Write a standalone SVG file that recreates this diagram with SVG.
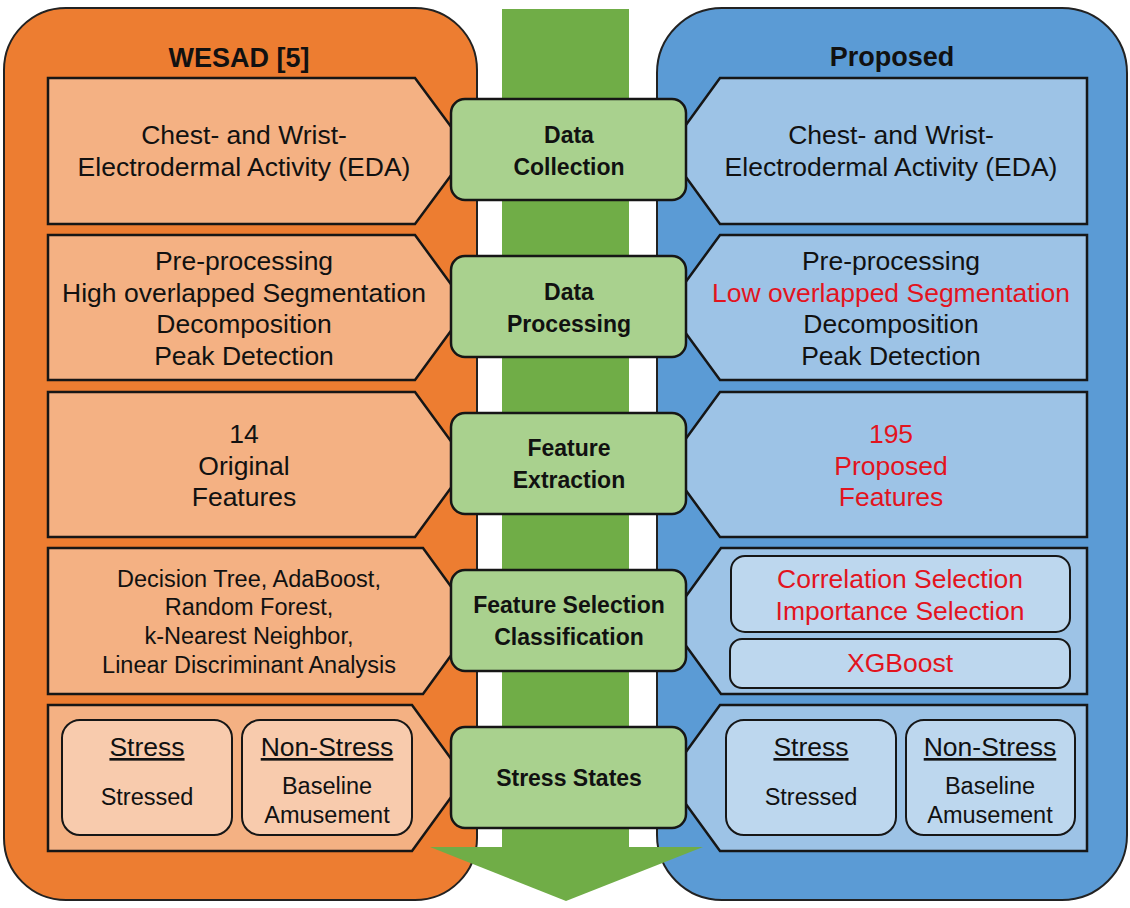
<svg xmlns="http://www.w3.org/2000/svg" width="1130" height="908" viewBox="0 0 1130 908">
<style>
text{font-family:"Liberation Sans",Arial,sans-serif;text-anchor:middle;fill:#111}
.body{font-size:26.5px}
.small{font-size:23.5px}
.red{fill:#E2141E}
.hdr{font-size:27px;font-weight:bold}
.lbl{font-size:23px;font-weight:bold}
.pl{fill:#F4B183;stroke:#161616;stroke-width:2.5}
.pr{fill:#9DC3E6;stroke:#161616;stroke-width:2.5}
.il{fill:#F8CBAD;stroke:#161616;stroke-width:2}
.ir{fill:#BDD7EE;stroke:#161616;stroke-width:2}
.gb{fill:#A9D18E;stroke:#161616;stroke-width:2.5}
.u{text-decoration:underline}
</style>
<rect width="1130" height="908" fill="#fff"/>
<g id="wesad-container">
<rect x="4" y="8" width="473" height="892" rx="62" fill="#ED7D31" stroke="#222" stroke-width="2"/>
<text class="hdr" x="239" y="67">WESAD [5]</text>
</g>
<g id="proposed-container">
<rect x="657" y="8" width="470" height="892" rx="65" fill="#5B9BD5" stroke="#222" stroke-width="2"/>
<text class="hdr" x="892" y="66">Proposed</text>
</g>
<g id="connectors">
<rect x="502" y="9" width="127" height="839" fill="#70AD47"/>
<polygon points="430,847 703,847 566,901" fill="#70AD47"/>
</g>
<g id="left-1">
<path class="pl" d="M48,78H415L469,151L415,224H48Z"/>
<text class="body" x="244" y="144">Chest- and Wrist-</text>
<text class="body" x="244" y="176">Electrodermal Activity (EDA)</text>
</g>
<g id="left-2">
<path class="pl" d="M48,235H415L468,307.5L415,380H48Z"/>
<text class="body" x="244" y="270">Pre-processing</text>
<text class="body" x="244" y="302">High overlapped Segmentation</text>
<text class="body" x="244" y="333">Decomposition</text>
<text class="body" x="244" y="365">Peak Detection</text>
</g>
<g id="left-3">
<path class="pl" d="M48,392H415L468,464.5L415,537H48Z"/>
<text class="body" x="244" y="443">14</text>
<text class="body" x="244" y="475">Original</text>
<text class="body" x="244" y="506">Features</text>
</g>
<g id="left-4">
<path class="pl" d="M48,548H423L476,621L423,694H48Z"/>
<text class="small" x="249" y="587">Decision Tree, AdaBoost,</text>
<text class="small" x="249" y="615">Random Forest,</text>
<text class="small" x="249" y="644">k-Nearest Neighbor,</text>
<text class="small" x="249" y="673">Linear Discriminant Analysis</text>
</g>
<g id="left-5">
<path class="pl" d="M48,705H412L465,778L412,851H48Z"/>
<rect class="il" x="62" y="720" width="170" height="115" rx="18"/>
<rect class="il" x="242" y="720" width="170" height="115" rx="18"/>
<text class="body u" x="147" y="756">Stress</text>
<text class="small" x="147" y="805">Stressed</text>
<text class="body u" x="327" y="756">Non-Stress</text>
<text class="small" x="327" y="794">Baseline</text>
<text class="small" x="327" y="823">Amusement</text>
</g>
<g id="right-1">
<path class="pr" d="M1087,78H720L667,151L720,224H1087Z"/>
<text class="body" x="891" y="144">Chest- and Wrist-</text>
<text class="body" x="891" y="176">Electrodermal Activity (EDA)</text>
</g>
<g id="right-2">
<path class="pr" d="M1087,235H720L667,307.5L720,380H1087Z"/>
<text class="body" x="891" y="270">Pre-processing</text>
<text class="body red" x="891" y="302">Low overlapped Segmentation</text>
<text class="body" x="891" y="333">Decomposition</text>
<text class="body" x="891" y="365">Peak Detection</text>
</g>
<g id="right-3">
<path class="pr" d="M1087,392H720L667,464.5L720,537H1087Z"/>
<text class="body red" x="891" y="443">195</text>
<text class="body red" x="891" y="475">Proposed</text>
<text class="body red" x="891" y="506">Features</text>
</g>
<g id="right-4">
<path class="pr" d="M1087,548H721L668,621L721,694H1087Z"/>
<rect class="ir" x="731" y="556" width="339" height="76" rx="14"/>
<rect class="ir" x="730" y="639" width="340" height="49" rx="12"/>
<text class="body red" x="900" y="588">Correlation Selection</text>
<text class="body red" x="900" y="620">Importance Selection</text>
<text class="body red" x="900" y="672">XGBoost</text>
</g>
<g id="right-5">
<path class="pr" d="M1087,705H720L667,778L720,851H1087Z"/>
<rect class="ir" x="726" y="720" width="170" height="115" rx="18"/>
<rect class="ir" x="906" y="720" width="169" height="115" rx="18"/>
<text class="body u" x="811" y="756">Stress</text>
<text class="small" x="811" y="805">Stressed</text>
<text class="body u" x="990" y="756">Non-Stress</text>
<text class="small" x="990" y="794">Baseline</text>
<text class="small" x="990" y="823">Amusement</text>
</g>
<g id="step-data-collection">
<rect class="gb" x="451" y="99" width="235" height="101" rx="14"/>
<text class="lbl" x="569" y="143">Data</text>
<text class="lbl" x="569" y="175">Collection</text>
</g>
<g id="step-data-processing">
<rect class="gb" x="451" y="256" width="235" height="101" rx="14"/>
<text class="lbl" x="569" y="300">Data</text>
<text class="lbl" x="569" y="332">Processing</text>
</g>
<g id="step-feature-extraction">
<rect class="gb" x="451" y="413" width="235" height="101" rx="14"/>
<text class="lbl" x="569" y="456">Feature</text>
<text class="lbl" x="569" y="488">Extraction</text>
</g>
<g id="step-feature-selection">
<rect class="gb" x="451" y="570" width="235" height="101" rx="14"/>
<text class="lbl" x="569" y="613">Feature Selection</text>
<text class="lbl" x="569" y="645">Classification</text>
</g>
<g id="step-stress-states">
<rect class="gb" x="451" y="727" width="235" height="101" rx="14"/>
<text class="lbl" x="569" y="786">Stress States</text>
</g>
</svg>
